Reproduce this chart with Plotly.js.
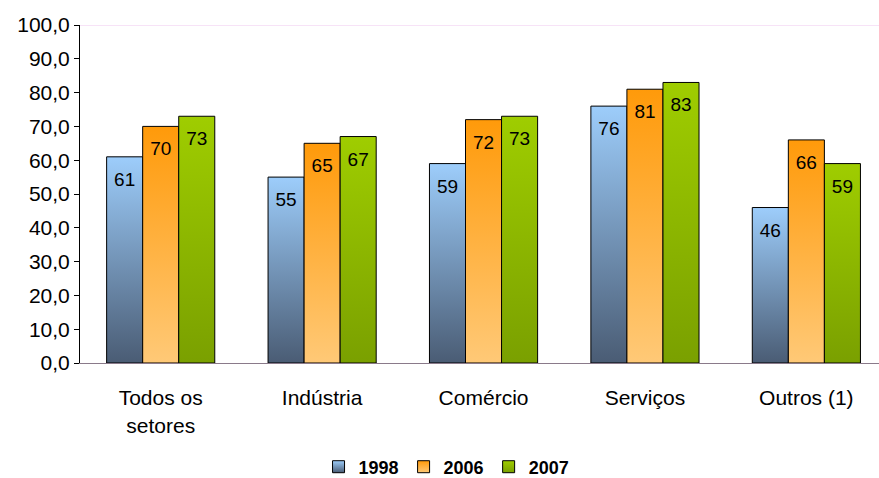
<!DOCTYPE html>
<html><head><meta charset="utf-8">
<script src="https://cdn.plot.ly/plotly-3.0.1.min.js"></script>
<style>body{margin:0;background:#fff}#c{width:879px;height:478px}</style>
</head><body><div id="c"></div>
<script>
var categories = ["Todos os<br>setores", "Indústria", "Comércio", "Serviços", "Outros (1)"];
var years = ["1998", "2006", "2007"];
var v1998 = [61, 55, 59, 76, 46];
var v2006 = [70, 65, 72, 81, 66];
var v2007 = [73, 67, 73, 83, 59];
var yTicks = [0, 10, 20, 30, 40, 50, 60, 70, 80, 90, 100];

var grads = [
  {id: "g0", top: "#9dcdfb", bottom: "#4a5c74"},
  {id: "g1", top: "#ff9a0a", bottom: "#ffc977"},
  {id: "g2", top: "#9fcd00", bottom: "#7aa000"}
];
var series = [v1998, v2006, v2007];
var data = series.map(function(vals, i){
  return {
    type: "bar", name: years[i], x: categories, y: vals,
    text: vals.map(String), textposition: "inside", insidetextanchor: "end",
    textfont: {family: "Arial, Liberation Sans", size: 19, color: "#000"},
    marker: {color: grads[i].top, line: {color: "#000", width: 1}},
    hoverinfo: "none"
  };
});
var layout = {
  width: 879, height: 478,
  margin: {l: 80, r: 0, t: 25, b: 115},
  barmode: "group", bargap: 0.33, bargroupgap: 0,
  paper_bgcolor: "#fff", plot_bgcolor: "#fff",
  separators: ",.",
  font: {family: "Arial, Liberation Sans", size: 20, color: "#000"},
  yaxis: {range: [0, 100], tickvals: yTicks, tickformat: ".1f", showgrid: false,
          showline: true, linecolor: "#000", linewidth: 1, ticks: "outside", ticklen: 5,
          tickcolor: "#000", zeroline: false, fixedrange: true,
          tickfont: {size: 21}},
  xaxis: {showline: true, linecolor: "#8a7a8a", linewidth: 1, ticks: "", showgrid: false,
          range: [-0.5, 4.45], tickfont: {size: 21}, ticklabelstandoff: 16},
  showlegend: true,
  legend: {orientation: "h", xref: "container", yref: "container", x: 0.508, xanchor: "center",
           y: 0.023, yanchor: "middle",
           font: {size: 18, weight: "bold"}, itemwidth: 30, traceorder: "normal"},
  shapes: [{type: "line", xref: "paper", yref: "y", x0: 0, x1: 1, y0: 100, y1: 100,
            line: {color: "#f0c8f0", width: 1}}]
};
Plotly.newPlot("c", data, layout, {staticPlot: true}).then(function(gd){
  var svg = gd.querySelector(".main-svg");
  var ns = "http://www.w3.org/2000/svg";
  var defs = svg.querySelector("defs") || svg.insertBefore(document.createElementNS(ns, "defs"), svg.firstChild);
  grads.forEach(function(g){
    var lg = document.createElementNS(ns, "linearGradient");
    lg.setAttribute("id", g.id); lg.setAttribute("x1", "0"); lg.setAttribute("y1", "0");
    lg.setAttribute("x2", "0"); lg.setAttribute("y2", "1");
    lg.setAttribute("gradientUnits", "objectBoundingBox");
    [["0", g.top], ["1", g.bottom]].forEach(function(s){
      var st = document.createElementNS(ns, "stop");
      st.setAttribute("offset", s[0]); st.setAttribute("stop-color", s[1]);
      lg.appendChild(st);
    });
    defs.appendChild(lg);
  });
  var traces = gd.querySelectorAll(".barlayer .trace");
  traces.forEach(function(t, i){
    t.querySelectorAll(".point path").forEach(function(p){ p.style.fill = "url(#" + grads[i].id + ")"; });
    t.querySelectorAll(".point text").forEach(function(tx){
      var g = document.createElementNS(ns, "g");
      g.setAttribute("transform", "translate(0,9)");
      tx.parentNode.insertBefore(g, tx); g.appendChild(tx);
    });
  });
  var legs = gd.querySelectorAll(".legend .traces");
  legs.forEach(function(t, i){
    t.querySelectorAll(".legendpoints path").forEach(function(p){ p.style.fill = "url(#" + grads[i].id + ")"; });
  });
});
</script></body></html>
